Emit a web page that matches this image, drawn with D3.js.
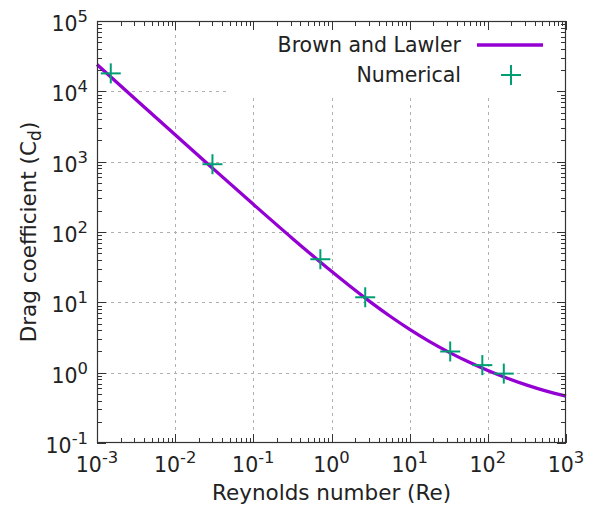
<!DOCTYPE html>
<html>
<head>
<meta charset="utf-8">
<script src="https://cdn.jsdelivr.net/npm/d3@7"></script>
<style>
  html, body { margin: 0; padding: 0; background: #fff; }
  svg { display: block; font-family: "DejaVu Sans", Verdana, sans-serif; }
</style>
</head>
<body>
<svg id="chart" width="598" height="507"></svg>
<script>
// Brown and Lawler correlation, sampled along Re
const reCurve = [0.001, 0.003162, 0.01, 0.03162, 0.1, 0.3162, 1, 1.778, 3.162, 5.623, 10, 17.78, 31.62, 56.23, 100, 177.8, 316.2, 562.3, 1000];
const cdCurve = [24030, 7612, 2416, 769.8, 247.5, 81.09, 27.60, 16.49, 10.08, 6.343, 4.128, 2.788, 1.957, 1.425, 1.073, 0.833, 0.664, 0.545, 0.463];

// Numerical results
const reNum = [0.0015, 0.03, 0.72, 2.7, 33, 85, 160];
const cdNum = [18000, 920, 41, 11.8, 2.0, 1.28, 0.97];

// Axis decades (exponents of the major ticks)
const xExponents = [-3, -2, -1, 0, 1, 2, 3];
const yExponents = [-1, 0, 1, 2, 3, 4, 5];

const seriesNames = ["Brown and Lawler", "Numerical"];
const xTitle = "Reynolds number (Re)";

const svg = d3.select("#chart");
const pL = 97, pR = 566, pT = 21, pB = 443;
const x = d3.scaleLog().domain([1e-3, 1e3]).range([pL, pR]);
const y = d3.scaleLog().domain([1e-1, 1e5]).range([pB, pT]);

const lineColor = "#9400d3";
const pointColor = "#009e73";
const fontSize = 20.5;
const titleSize = 21.5;

// Grid
const grid = svg.append("g").attr("stroke", "#b0b0b0").attr("stroke-width", 1)
  .attr("stroke-dasharray", "3,4").attr("fill", "none");
xExponents.slice(1, -1).forEach(e => {
  const px = Math.round(x(Math.pow(10, e))) + 0.5;
  grid.append("line").attr("x1", px).attr("x2", px).attr("y1", pT).attr("y2", pB);
});
yExponents.slice(1, -1).forEach(e => {
  const py = Math.round(y(Math.pow(10, e))) + 0.5;
  grid.append("line").attr("x1", pL).attr("x2", pR).attr("y1", py).attr("y2", py);
});

// Key background
svg.append("rect").attr("x", 226).attr("y", pT + 1).attr("width", pR - 227).attr("height", 72)
  .attr("fill", "#fff");

// Curve
const line = d3.line().x((d, i) => x(reCurve[i])).y((d, i) => y(cdCurve[i])).curve(d3.curveMonotoneX);
svg.append("path").datum(cdCurve).attr("d", line)
  .attr("fill", "none").attr("stroke", lineColor).attr("stroke-width", 3.3)
  .attr("stroke-linejoin", "round");

// Numerical points as crosses
const cross = (g, cx, cy) => {
  g.append("line").attr("x1", cx - 10).attr("x2", cx + 10).attr("y1", cy).attr("y2", cy);
  g.append("line").attr("x1", cx).attr("x2", cx).attr("y1", cy - 10).attr("y2", cy + 10);
};
const pts = svg.append("g").attr("stroke", pointColor).attr("stroke-width", 2);
reNum.forEach((r, i) => cross(pts, x(r), y(cdNum[i])));

// Ticks (inward, mirrored on all sides)
const ticks = svg.append("g").attr("stroke", "#333").attr("stroke-width", 1);
const minor = [2, 3, 4, 5, 6, 7, 8, 9];
xExponents.forEach((e, k) => {
  const vals = [[Math.pow(10, e), 9]];
  if (k < xExponents.length - 1) minor.forEach(m => vals.push([m * Math.pow(10, e), 5]));
  vals.forEach(([v, len]) => {
    const px = Math.round(x(v)) + 0.5;
    ticks.append("line").attr("x1", px).attr("x2", px).attr("y1", pB).attr("y2", pB - len);
    ticks.append("line").attr("x1", px).attr("x2", px).attr("y1", pT).attr("y2", pT + len);
  });
});
yExponents.forEach((e, k) => {
  const vals = [[Math.pow(10, e), 9]];
  if (k < yExponents.length - 1) minor.forEach(m => vals.push([m * Math.pow(10, e), 5]));
  vals.forEach(([v, len]) => {
    const py = Math.round(y(v)) + 0.5;
    ticks.append("line").attr("x1", pL).attr("x2", pL + len).attr("y1", py).attr("y2", py);
    ticks.append("line").attr("x1", pR).attr("x2", pR - len).attr("y1", py).attr("y2", py);
  });
});

// Frame
svg.append("rect").attr("x", pL + 0.5).attr("y", pT + 0.5)
  .attr("width", pR - pL - 1).attr("height", pB - pT - 1)
  .attr("fill", "none").attr("stroke", "#333").attr("stroke-width", 1.2);

// Tick labels with superscript exponents
const powLabel = (sel, e) => {
  sel.append("tspan").text("10");
  sel.append("tspan").attr("dy", -9).attr("font-size", fontSize * 0.8).text(e < 0 ? "-" + (-e) : String(e));
};
xExponents.forEach(e => {
  const t = svg.append("text").attr("x", x(Math.pow(10, e))).attr("y", 472)
    .attr("text-anchor", "middle").attr("font-size", fontSize).attr("fill", "#222");
  powLabel(t, e);
});
yExponents.forEach(e => {
  const t = svg.append("text").attr("x", 88).attr("y", y(Math.pow(10, e)) + 10)
    .attr("text-anchor", "end").attr("font-size", fontSize).attr("fill", "#222");
  powLabel(t, e);
});

// Axis titles
svg.append("text").attr("x", (pL + pR) / 2).attr("y", 500).attr("text-anchor", "middle")
  .attr("font-size", titleSize).attr("fill", "#222").text(xTitle);
const yt = svg.append("text").attr("transform", `translate(36,${(pT + pB) / 2}) rotate(-90)`)
  .attr("text-anchor", "middle").attr("font-size", titleSize).attr("fill", "#222");
yt.append("tspan").text("Drag coefficient (C");
yt.append("tspan").attr("dy", 5).attr("font-size", titleSize * 0.8).text("d");
yt.append("tspan").attr("dy", -5).text(")");

// Key
svg.append("text").attr("x", 461).attr("y", 52).attr("text-anchor", "end")
  .attr("font-size", fontSize).attr("fill", "#222").text(seriesNames[0]);
svg.append("line").attr("x1", 477).attr("x2", 543).attr("y1", 45).attr("y2", 45)
  .attr("stroke", lineColor).attr("stroke-width", 3.3);
svg.append("text").attr("x", 461).attr("y", 82).attr("text-anchor", "end")
  .attr("font-size", fontSize).attr("fill", "#222").text(seriesNames[1]);
cross(svg.append("g").attr("stroke", pointColor).attr("stroke-width", 2), 511, 75);
</script>
</body>
</html>
